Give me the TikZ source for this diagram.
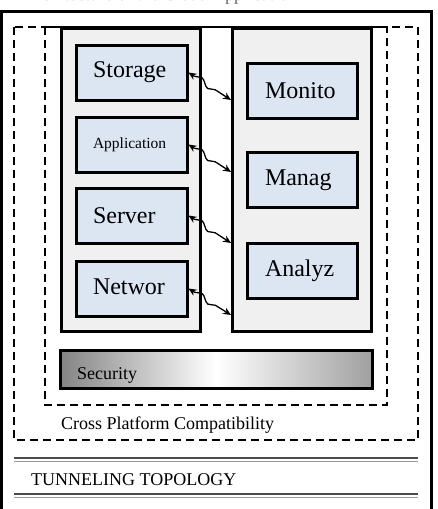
\documentclass[tikz,border=0pt]{standalone}
\usepackage{fontspec}
\setmainfont{Liberation Serif}
\usetikzlibrary{arrows.meta,decorations.pathmorphing}
\definecolor{panelgray}{HTML}{F0F0F0}
\definecolor{boxblue}{HTML}{DCE6F2}
\definecolor{shadeL}{HTML}{848484}
\definecolor{shadeR}{HTML}{A0A0A0}
\tikzset{
  panel/.style={draw=black, line width=3pt, fill=panelgray, minimum width=139pt, minimum height=303pt, inner sep=0pt},
  compbox/.style={draw=black, line width=3pt, fill=boxblue, minimum height=55pt, align=left, font=\fontsize{24}{27}\selectfont},
  leftbox/.style={compbox, inner xsep=17pt, text width=77pt},
  rightbox/.style={compbox, inner xsep=18pt, text width=74pt},
  dashbox/.style={draw=black, line width=1.5pt, dash pattern=on 8pt off 5pt},
  link/.style={{Stealth[length=8pt,width=7pt]}-{Stealth[length=8pt,width=7pt]}, line width=1.3pt,
    decorate, decoration={snake, amplitude=3pt, segment length=22pt, pre length=7pt, post length=8pt}},
  plain18/.style={font=\fontsize{18}{21}\selectfont, inner sep=0pt},
}
\begin{document}
\begin{tikzpicture}[x=1pt,y=-1pt]
\useasboundingbox (0,0) rectangle (437,509);
\clip (0,0) rectangle (437,509);
\fill[white] (0,0) rectangle (437,509);
% clipped title at the very top
\node[plain18, anchor=base west, text=black!60] (title) at (23,0) {Architecture of the Cloud Application};
% outer frame
\draw[line width=3pt] (1.5,520) -- (1.5,11) -- (431.5,11) -- (431.5,520);
% dashed regions
\draw[dashbox] (14,27) rectangle (418,440);
\draw[dashbox] (45,27) rectangle (387,405);
% panels
\node[panel] (lp) at (131,180) {};
\node[panel] (rp) at (302,180) {};
% left components
\node[leftbox] (storage) at (131.5,72.5) {Storage};
\node[leftbox, font=\fontsize{15.5}{18}\selectfont] (application) at (131.5,144.5) {Application};
\node[leftbox] (server) at (131.5,215.5) {Server};
\node[leftbox] (network) at (131.5,288.5) {\raisebox{3pt}{Networ}};
% right components
\node[rightbox] (monitor) at (302,90.5) {Monito};
\node[rightbox] (manage) at (302,180) {Manag};
\node[rightbox] (analyze) at (302,270.5) {Analyz};
% connector targets on the right panel
\coordinate (r1) at (231,100);
\coordinate (r2) at (231,172);
\coordinate (r3) at (231,243);
\coordinate (r4) at (231,315);
\draw[link] (storage.east) -- (r1);
\draw[link] (application.east) -- (r2);
\draw[link] (server.east) -- (r3);
\draw[link] (network.east) -- (r4);
% security bar
\node[draw=black, line width=3pt, left color=shadeL, right color=shadeR, middle color=white,
      minimum width=312pt, minimum height=38pt, inner sep=0pt] (security) at (216,369) {};
\node[anchor=base west, inner sep=0pt, font=\fontsize{18}{20}\selectfont] (seclabel)
      at (77,379) {Security};
% labels
\node[plain18, anchor=west] (cpc) at (61,425) {Cross Platform Compatibility};
\draw[line width=1.4pt, black!70] (14,458) -- (418,458);
\draw[line width=1pt, black!40] (14,461.5) -- (418,461.5);
\node[plain18, anchor=west] (tt) at (31,480) {TUNNELING TOPOLOGY};
\draw[line width=1.4pt, black!70] (14,494) -- (418,494);
\draw[line width=1pt, black!40] (14,497.5) -- (418,497.5);
\end{tikzpicture}
\end{document}
